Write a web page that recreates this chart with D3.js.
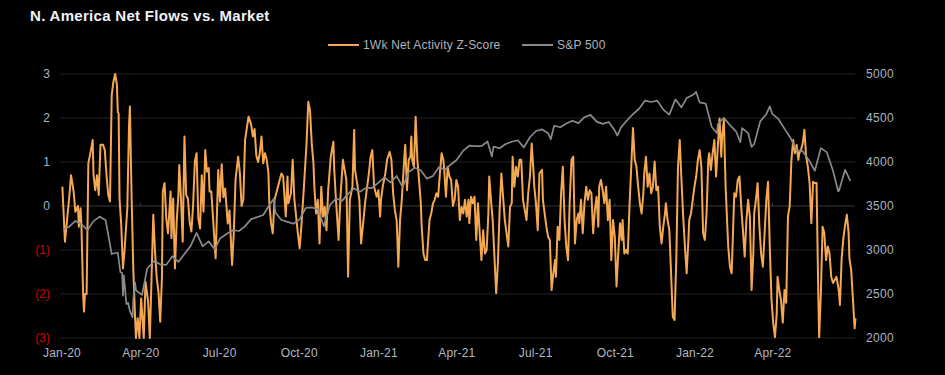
<!DOCTYPE html>
<html>
<head>
<meta http-equiv="Content-Type" content="text/html; charset=utf-8">
<script src="https://cdnjs.cloudflare.com/ajax/libs/d3/7.8.5/d3.min.js"></script>
<style>
  body { margin: 0; background: #000; }
  text { font-family: "Liberation Sans", Arial, sans-serif; }
</style>
</head>
<body>
<div id="chart"></div>
<script>

// ---------------------------------------- DATA

var title = "N. America Net Flows vs. Market";
var seriesNames = ["1Wk Net Activity Z-Score", "S&P 500"];
var startDate = "2020-01-01";

// Z-score: days counted from startDate, and the value on that day
var zDays = [
  1,4,9,11,14,16,19,20,22,23,25,26,27,29,31,34,36,37,39,41,43,45,48,50,52,54,56,58,60,62,64,65,66,67,69,71,73,76,78,79,
  81,83,85,86,88,90,92,95,97,100,102,104,106,108,110,112,114,116,117,119,121,123,126,127,129,131,133,135,136,138,140,142,144,146,148,150,152,154,156,158,
  160,162,164,166,168,170,171,173,176,178,
  181,183,185,187,189,192,194,197,199,201,204,206,208,210,212,216,219,221,223,225,227,229,231,233,235,237,239,240,242,244,246,248,250,252,254,256,259,261,262,265,
  267,269,273,275,
  277,280,283,285,287,289,291,292,294,296,298,300,302,304,306,308,311,314,315,317,320,322,325,327,329,331,333,336,338,339,342,344,346,348,351,353,355,357,359,361,
  364,366,368,369,371,374,376,379,381,383,385,387,388,389,391,393,396,397,399,401,403,404,405,407,409,411,412,415,416,418,420,422,423,425,427,429,431,433,435,437,
  439,441,442,444,446,448,450,452,454,456,458,460,462,464,466,468,470,471,473,475,477,479,481,483,485,487,489,491,493,494,496,498,500,502,504,506,508,510,512,514,
  516,518,520,521,523,525,527,529,531,533,537,539,541,543,545,546,548,550,552,555,556,558,560,562,564,566,568,570,571,573,575,577,579,581,583,585,587,589,591,593,
  595,597,598,600,602,604,606,608,610,612,614,616,618,620,621,623,625,627,629,631,633,635,637,639,641,643,645,647,648,650,652,654,656,658,660,662,664,666,668,670,
  672,673,675,677,679,681,683,685,687,689,691,693,695,697,698,700,702,704,706,708,710,712,714,716,718,720,722,724,725,727,729,731,733,735,737,739,741,743,745,747,
  748,750,752,754,756,758,760,762,763,765,767,769,770,772,774,776,777,779,781,783,785,787,789,791,793,795,797,799,800,802,804,806,808,810,812,814,816,818,820,822,
  824,826,827,829,831,833,835,837,839,841,843,845,847,849,851,852,854,856,858,860,862,864,866,868,870,872,874,875,877,879,881,883,885,887,889,891,893,895,897,898,
  899,901,903,905,907,909,910,912,914,916,917
];
var zValues = [
  0.44,-0.81,0.21,0.70,0.33,-0.13,0.00,-0.47,-0.05,-0.43,-2.02,-2.40,-2.00,-2.00,0.97,1.27,1.50,0.70,0.36,0.70,0.25,1.39,1.39,1.27,0.70,0.25,0.10,2.52,2.83,3.00,2.75,2.14,2.10,0.17,-0.43,-1.42,-0.96,-0.05,1.84,2.26,
  0.17,-1.49,-2.55,-3.00,-2.55,-3.00,-2.10,-3.00,-1.72,-2.17,-3.00,-1.64,-0.20,-1.04,-1.64,-1.95,-2.63,-1.64,0.33,0.52,-0.28,-0.62,0.33,-0.73,0.17,-1.42,-0.36,0.25,0.93,0.17,-0.81,1.58,0.25,0.17,-0.36,-0.58,0.02,1.01,1.20,-0.28,
  -0.51,0.70,-0.13,1.27,0.78,0.86,0.33,0.33,-0.58,-1.19,
  0.82,0.10,0.95,0.20,0.40,-0.40,-0.10,-1.34,-0.60,0.60,1.12,0.75,0.00,0.15,1.50,2.03,1.85,1.58,1.75,1.15,1.00,1.20,1.58,0.97,1.20,1.05,0.74,0.06,-0.39,-0.62,0.14,0.29,0.44,0.59,0.74,0.67,-0.24,0.67,0.06,0.29,
  1.05,0.14,-0.62,-0.96,
  -0.47,0.44,1.42,2.37,2.18,1.42,0.97,0.44,-0.17,0.14,-0.85,0.44,-0.24,-0.02,-0.55,0.36,1.12,1.46,0.82,0.14,-0.77,0.14,1.05,0.82,0.59,-1.61,0.14,0.44,1.73,0.82,0.44,0.14,-0.85,-0.47,0.14,0.44,0.74,1.12,1.27,0.44,
  0.21,0.36,-0.24,0.14,0.44,0.74,1.05,1.23,1.05,0.29,-0.09,-0.32,-0.77,-1.38,-0.32,0.14,1.12,1.39,0.36,1.05,1.12,1.58,1.05,0.89,2.03,1.05,0.82,0.06,-0.47,-1.08,-1.23,-1.23,-0.92,-0.32,-0.17,0.06,0.14,0.29,0.21,0.74,
  1.20,1.05,0.82,0.21,0.89,0.67,0.59,0.00,0.14,0.59,0.44,-0.32,-0.02,-0.17,0.14,-0.24,0.14,-0.39,0.21,0.06,0.21,-0.77,0.06,-0.62,-1.23,-0.55,-1.08,-1.00,-0.17,0.67,0.14,-0.32,-1.15,-1.98,-1.30,-0.09,0.74,0.21,-0.32,-0.62,
  -0.92,-0.02,0.06,1.12,0.44,0.89,0.67,1.05,1.05,0.14,-0.32,0.29,0.67,1.42,0.82,0.44,0.06,-0.55,0.74,0.82,0.14,-0.17,-0.47,-0.70,-0.77,-1.91,-1.53,-1.23,-1.61,-0.47,-0.77,0.29,0.89,-0.32,-0.92,-1.23,0.14,1.05,1.12,-0.85,
  -0.32,-0.17,-0.39,0.14,-0.62,0.06,0.44,0.14,0.36,0.29,-0.62,-0.09,0.21,-0.47,0.44,0.59,0.36,0.06,0.44,-0.32,0.14,-1.23,-0.32,-0.70,-1.83,-1.08,-0.39,-0.77,-0.32,-1.08,-1.00,-1.08,0.00,0.89,1.77,1.05,0.89,0.44,0.06,-0.17,
  0.29,0.74,1.12,0.44,0.74,0.29,0.44,1.01,0.36,0.44,-0.47,-0.85,-0.47,-0.17,0.06,-0.32,-0.55,-1.53,-2.52,-2.59,-1.23,0.89,1.50,0.59,-0.24,-0.92,-1.53,-0.77,-0.32,-0.17,0.14,0.44,0.67,1.05,1.27,0.89,-0.62,-0.77,-0.17,1.05,
  1.20,0.82,1.20,1.50,0.67,1.35,1.99,1.12,1.58,1.95,0.44,-0.47,-0.92,-1.38,-1.53,-0.32,0.29,0.21,0.59,0.67,-0.02,-0.55,-1.15,-0.32,0.14,-0.24,-1.91,-1.08,-0.17,0.14,0.52,-0.47,-1.08,-1.38,-0.62,0.14,0.55,-0.92,-2.14,-2.67,
  -2.98,-2.45,-1.61,-1.91,-2.14,-2.65,-1.91,-2.20,-0.24,0.00,1.05,1.50,1.20,1.39,1.05,1.20,1.27,1.42,1.73,1.12,0.89,0.52,-0.39,0.55,0.52,0.52,-1.98,-2.98,-1.98,-0.47,-0.62,-1.23,-0.92,-1.08,-1.61,-1.75,-1.68,-1.61,-1.83,-1.98,
  -2.25,-1.19,-0.73,-0.43,-0.20,-0.60,-1.19,-1.45,-2.10,-2.78,-2.55
];

// S&P 500 closes
var spxDates = [
  "2020-01-03","2020-01-10","2020-01-17","2020-01-24","2020-01-31","2020-02-07","2020-02-14","2020-02-21","2020-02-28","2020-03-06",
  "2020-03-09","2020-03-11","2020-03-12","2020-03-13","2020-03-16","2020-03-18","2020-03-20","2020-03-23","2020-03-24","2020-03-26",
  "2020-03-27","2020-04-03","2020-04-09","2020-04-17","2020-04-24","2020-05-01","2020-05-08","2020-05-15","2020-05-22","2020-05-29",
  "2020-06-05","2020-06-12","2020-06-19","2020-06-26","2020-07-02","2020-07-10","2020-07-17","2020-07-24","2020-07-31","2020-08-07",
  "2020-08-14","2020-08-21","2020-08-28","2020-09-02","2020-09-04","2020-09-11","2020-09-18","2020-09-25","2020-10-02","2020-10-09",
  "2020-10-16","2020-10-23","2020-10-30","2020-11-06","2020-11-13","2020-11-20","2020-11-27","2020-12-04","2020-12-11","2020-12-18",
  "2020-12-24","2020-12-31","2021-01-08","2021-01-15","2021-01-22","2021-01-29","2021-02-05","2021-02-12","2021-02-19","2021-02-26",
  "2021-03-05","2021-03-12","2021-03-19","2021-03-26","2021-04-01","2021-04-09","2021-04-16","2021-04-23","2021-04-30","2021-05-07",
  "2021-05-12","2021-05-14","2021-05-21","2021-05-28","2021-06-04","2021-06-11","2021-06-18","2021-06-25","2021-07-02","2021-07-09",
  "2021-07-16","2021-07-19","2021-07-23","2021-07-30","2021-08-06","2021-08-13","2021-08-20","2021-08-27","2021-09-03","2021-09-10",
  "2021-09-17","2021-09-24","2021-10-01","2021-10-04","2021-10-08","2021-10-15","2021-10-22","2021-10-29","2021-11-05","2021-11-12",
  "2021-11-19","2021-11-26","2021-12-03","2021-12-10","2021-12-17","2021-12-23","2021-12-31","2022-01-03","2022-01-07","2022-01-14",
  "2022-01-21","2022-01-27","2022-01-28","2022-02-04","2022-02-11","2022-02-18","2022-02-23","2022-02-25","2022-03-04","2022-03-08",
  "2022-03-11","2022-03-18","2022-03-25","2022-03-29","2022-04-01","2022-04-08","2022-04-14","2022-04-22","2022-04-29","2022-05-06",
  "2022-05-13","2022-05-20","2022-05-27","2022-06-03","2022-06-10","2022-06-16","2022-06-17","2022-06-24","2022-06-30"
];
var spxValues = [
  3235,3265,3330,3295,3226,3328,3380,3338,2954,2972,
  2747,2741,2481,2711,2386,2398,2305,2237,2447,2630,
  2541,2489,2790,2875,2837,2831,2930,2864,2955,3044,
  3194,3041,3098,3009,3130,3185,3225,3216,3271,3351,
  3373,3397,3508,3580,3427,3341,3319,3298,3348,3477,
  3483,3465,3270,3510,3585,3558,3638,3699,3663,3709,
  3703,3756,3825,3768,3841,3714,3887,3934,3907,3811,
  3842,3943,3913,3975,4020,4129,4185,4180,4181,4233,
  4063,4174,4156,4204,4230,4247,4166,4281,4352,4370,
  4327,4259,4412,4395,4437,4468,4442,4509,4535,4459,
  4433,4455,4357,4300,4391,4471,4545,4605,4698,4682,
  4698,4595,4538,4712,4620,4726,4766,4796,4677,4663,
  4398,4326,4432,4501,4419,4349,4225,4385,4329,4171,
  4204,4463,4543,4632,4546,4488,4393,4272,4132,4123,
  4024,3901,4158,4109,3901,3667,3675,3912,3785
];

var leftTicks = [3, 2, 1, 0, -1, -2, -3];
var rightTicks = [5000, 4500, 4000, 3500, 3000, 2500, 2000];
var xTickDates = ["2020-01-01","2020-04-01","2020-07-01","2020-10-01","2021-01-01","2021-04-01",
                  "2021-07-01","2021-10-01","2022-01-01","2022-04-01"];

// ---------------------------------------- SVG

var width = 945;
var height = 375;

var svg = d3.select("#chart")
  .append("svg")
  .attr("width", width)
  .attr("height", height)
  .style("background", "#000");

var parse = d3.timeParse("%Y-%m-%d");
var day0 = parse(startDate);

var x = d3.scaleTime()
  .domain([day0, d3.timeDay.offset(day0, 917)])
  .range([61.5, 855.5]);
var yL = d3.scaleLinear().domain([-3, 3]).range([338, 74]);
var yR = d3.scaleLinear().domain([2000, 5000]).range([338, 74]);

var orange = "#f5a852";
var grey = "#8a8a8a";

// title
svg.append("text")
  .attr("x", 30).attr("y", 21)
  .attr("fill", "#eef2f8")
  .style("font-size", "15px")
  .style("font-weight", "bold")
  .style("letter-spacing", "0.3px")
  .text(title);

// legend
var legend = svg.append("g").attr("transform", "translate(0,45)");
[[328, orange, seriesNames[0]], [522, grey, seriesNames[1]]].forEach(function(l){
  legend.append("line")
    .attr("x1", l[0]).attr("x2", l[0] + 31)
    .attr("y1", 0).attr("y2", 0)
    .attr("stroke", l[1]).attr("stroke-width", 2);
  legend.append("text")
    .attr("x", l[0] + 35).attr("y", 4)
    .attr("fill", "#aeb3bc")
    .style("font-size", "12px")
    .style("letter-spacing", "0.2px")
    .text(l[2]);
});

// gridlines
svg.append("g")
  .selectAll("line")
  .data(leftTicks)
  .enter()
  .append("line")
  .attr("x1", 60).attr("x2", 855)
  .attr("y1", function(d){ return yL(d); })
  .attr("y2", function(d){ return yL(d); })
  .attr("stroke", function(d){ return d === 0 ? "#3a3a3a" : "#222"; })
  .attr("stroke-width", 1);

// small ticks on the zero line
svg.append("g")
  .selectAll("line")
  .data(xTickDates.slice(1))
  .enter()
  .append("line")
  .attr("x1", function(d){ return x(parse(d)); })
  .attr("x2", function(d){ return x(parse(d)); })
  .attr("y1", yL(0) - 3).attr("y2", yL(0))
  .attr("stroke", "#444");

// left axis
var leftAxis = svg.append("g")
  .attr("transform", "translate(53,0)")
  .call(d3.axisLeft(yL).tickValues(leftTicks).tickSize(0).tickPadding(3)
    .tickFormat(function(d){ return d < 0 ? "(" + (-d) + ")" : d; }));
leftAxis.select(".domain").remove();
leftAxis.selectAll("text")
  .style("font-size", "12px")
  .attr("fill", function(d){ return d < 0 ? "#d60000" : "#a8b3c4"; });

// right axis
var rightAxis = svg.append("g")
  .attr("transform", "translate(864,0)")
  .call(d3.axisRight(yR).tickValues(rightTicks).tickSize(0).tickPadding(2)
    .tickFormat(d3.format("d")));
rightAxis.select(".domain").remove();
rightAxis.selectAll("text")
  .style("font-size", "12px")
  .style("letter-spacing", "0.3px")
  .attr("fill", "#aab3c0");

// bottom axis
var bottomAxis = svg.append("g")
  .attr("transform", "translate(0,345)")
  .call(d3.axisBottom(x).tickValues(xTickDates.map(parse)).tickSize(0).tickPadding(3)
    .tickFormat(d3.timeFormat("%b-%y")));
bottomAxis.select(".domain").remove();
bottomAxis.selectAll("text")
  .style("font-size", "12px")
  .style("letter-spacing", "0.2px")
  .attr("fill", "#b2b7c0");

// ---------------------------------------- LINES

var zData = zDays.map(function(d, i){ return [d3.timeDay.offset(day0, d), zValues[i]]; });
var spxData = spxDates.map(function(d, i){ return [parse(d), spxValues[i]]; });

svg.append("path")
  .datum(zData)
  .attr("fill", "none")
  .attr("stroke", orange)
  .attr("stroke-width", 2)
  .attr("stroke-linejoin", "round")
  .attr("d", d3.line()
    .x(function(d){ return x(d[0]); })
    .y(function(d){ return yL(d[1]); }));

svg.append("path")
  .datum(spxData)
  .attr("fill", "none")
  .attr("stroke", grey)
  .attr("stroke-width", 1.7)
  .attr("stroke-linejoin", "round")
  .attr("d", d3.line()
    .x(function(d){ return x(d[0]); })
    .y(function(d){ return yR(d[1]); }));

</script>
</body>
</html>
